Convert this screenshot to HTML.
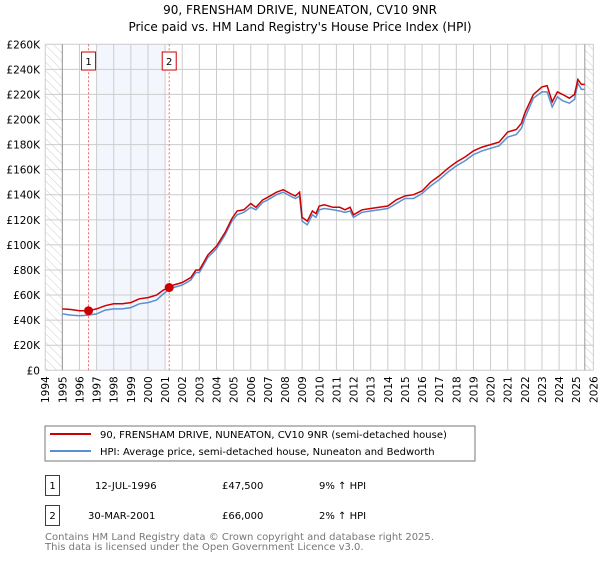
<!DOCTYPE html>
<html><head><meta charset="utf-8"><style>
body{margin:0;background:#fff;width:600px;height:560px;overflow:hidden;font-family:"DejaVu Sans","Liberation Sans",sans-serif;}
svg text{font-family:"DejaVu Sans","Liberation Sans",sans-serif;}
</style></head><body>
<svg width="600" height="560" xmlns="http://www.w3.org/2000/svg">
<defs><pattern id="hatch" width="6" height="6" patternUnits="userSpaceOnUse" patternTransform="rotate(-45)"><line x1="0" y1="0" x2="0" y2="6" stroke="#ccc" stroke-width="1"/></pattern></defs>
<text x="300" y="14" text-anchor="middle" font-size="12">90, FRENSHAM DRIVE, NUNEATON, CV10 9NR</text>
<text x="300" y="31" text-anchor="middle" font-size="12">Price paid vs. HM Land Registry's House Price Index (HPI)</text>
<g id="plot"></g>
<rect x="45" y="426" width="430" height="35" fill="#fff" stroke="#777"/>
<line x1="50" y1="434" x2="91" y2="434" stroke="#cc0000" stroke-width="2"/>
<text x="100" y="438" font-size="10">90, FRENSHAM DRIVE, NUNEATON, CV10 9NR (semi-detached house)</text>
<line x1="50" y1="451" x2="91" y2="451" stroke="#5b8fd4" stroke-width="2"/>
<text x="100" y="455" font-size="10">HPI: Average price, semi-detached house, Nuneaton and Bedworth</text>
<rect x="45.5" y="475.5" width="14" height="20" fill="#fff" stroke="#cc0000"/>
<text x="52.5" y="489" font-size="10" text-anchor="middle">1</text>
<text x="95" y="489" font-size="10">12-JUL-1996</text>
<text x="222" y="489" font-size="10">£47,500</text>
<text x="319" y="489" font-size="10">9% ↑ HPI</text>
<rect x="45.5" y="505.5" width="14" height="20" fill="#fff" stroke="#cc0000"/>
<text x="52.5" y="519" font-size="10" text-anchor="middle">2</text>
<text x="88" y="519" font-size="10">30-MAR-2001</text>
<text x="222" y="519" font-size="10">£66,000</text>
<text x="319" y="519" font-size="10">2% ↑ HPI</text>
<text x="45" y="540" font-size="10" fill="#777">Contains HM Land Registry data © Crown copyright and database right 2025.</text>
<text x="45" y="550" font-size="10" fill="#777">This data is licensed under the Open Government Licence v3.0.</text>
</svg>
<script>
const years=[1994,1995,1996,1997,1998,1999,2000,2001,2002,2003,2004,2005,2006,2007,2008,2009,2010,2011,2012,2013,2014,2015,2016,2017,2018,2019,2020,2021,2022,2023,2024,2025,2026];
const yTicks=[0,20,40,60,80,100,120,140,160,180,200,220,240,260];
const dates=[1995.0,1995.5,1996.0,1996.53,1997.0,1997.5,1998.0,1998.5,1999.0,1999.5,2000.0,2000.5,2000.9,2001.24,2001.5,2002.0,2002.5,2002.8,2003.0,2003.5,2004.0,2004.5,2004.9,2005.2,2005.6,2006.0,2006.3,2006.7,2007.0,2007.5,2007.9,2008.3,2008.6,2008.85,2009.0,2009.3,2009.6,2009.8,2010.0,2010.3,2010.8,2011.2,2011.5,2011.8,2012.0,2012.5,2013.0,2013.5,2014.0,2014.5,2015.0,2015.5,2016.0,2016.5,2017.0,2017.5,2018.0,2018.5,2019.0,2019.5,2020.0,2020.5,2021.0,2021.5,2021.8,2022.0,2022.5,2023.0,2023.3,2023.6,2023.9,2024.2,2024.6,2024.9,2025.1,2025.3,2025.5];
const priceSeries=[49,48.5,47.5,47.5,49,51.5,53,53,54,57,58,60,64,66,68,70,74,80,80,92,99,110,121,127,128,133,130,136,138,142,144,141,139,142,122,119,127,125,131,132,130,130,128,130,124,128,129,130,131,136,139,140,143,150,155,161,166,170,175,178,180,182,190,192,197,205,220,226,227,214,222,220,217,220,232,228,228];
const hpiSeries=[45,44,43.5,44,45,48,49,49,50,53,54,56,61,64.5,66,68,72,78,78,90,97,108,119,124,126,130,128,134,136,140,142,139,137,139,119,116,124,122,128,129,128,127,126,127,122,126,127,128,129,133,137,137,141,147,152,158,163,167,172,175,177,179,186,188,193,201,217,222,222,210,218,215,213,216,229,224,224];
const sales=[[1996.53,47.5,"1"],[2001.24,66,"2"]];
const X=v=>45.2+(v-1994)*17.13, Y=v=>370.3-v*1.254;
const ns="http://www.w3.org/2000/svg", g=document.getElementById('plot');
function el(t,a){const e=document.createElementNS(ns,t);for(const k in a)e.setAttribute(k,a[k]);g.appendChild(e);return e;}
let e=el('rect',{x:X(1997),y:Y(260),width:X(2001)-X(1997),height:Y(0)-Y(260),fill:'#eef3fc',opacity:0.7});

e=el('rect',{x:X(1994),y:Y(260),width:X(1995)-X(1994),height:Y(0)-Y(260),fill:'url(#hatch)'});

e=el('rect',{x:X(2025.5),y:Y(260),width:X(2026)-X(2025.5),height:Y(0)-Y(260),fill:'url(#hatch)'});

yTicks.forEach(t=>{let l=el('line',{x1:X(1994),x2:X(2026),y1:Y(t),y2:Y(t),stroke:'#ccc'});

let tx=el('text',{x:40,y:Y(t)+4,'font-size':10.5,'text-anchor':'end'});tx.textContent=t?('£'+t+'K'):'£0';
});
years.forEach(yv=>{let l=el('line',{x1:X(yv),x2:X(yv),y1:Y(260),y2:Y(0),stroke:'#ccc'});

let tx=el('text',{x:0,y:0,'font-size':10.5,'text-anchor':'end',transform:`translate(${X(yv)+4},${Y(0)+6}) rotate(-90)`});tx.textContent=yv;
});
[1995,2025.5].forEach(v=>{let l=el('line',{x1:X(v),x2:X(v),y1:Y(260),y2:Y(0),stroke:'#999'});
});
sales.forEach(s=>{let l=el('line',{x1:X(s[0]),x2:X(s[0]),y1:Y(260),y2:Y(0),stroke:'#f66','stroke-dasharray':'2,2'});

let r=el('rect',{x:X(s[0])-7,y:52,width:14,height:18,fill:'#fff',stroke:'#cc0000'});

let t=el('text',{x:X(s[0]),y:65,'font-size':10,'text-anchor':'middle'});t.textContent=s[2];
});
const pts=arr=>arr.map((v,i)=>X(dates[i]).toFixed(1)+','+Y(v).toFixed(1)).join(' ');
e=el('polyline',{points:pts(hpiSeries),fill:'none',stroke:'#5b8fd4','stroke-width':1.5});

e=el('polyline',{points:pts(priceSeries),fill:'none',stroke:'#cc0000','stroke-width':1.5});

sales.forEach(s=>{let c=el('circle',{cx:X(s[0]),cy:Y(s[1]),r:4.5,fill:'#cc0000'});
});
</script>
</body></html>
